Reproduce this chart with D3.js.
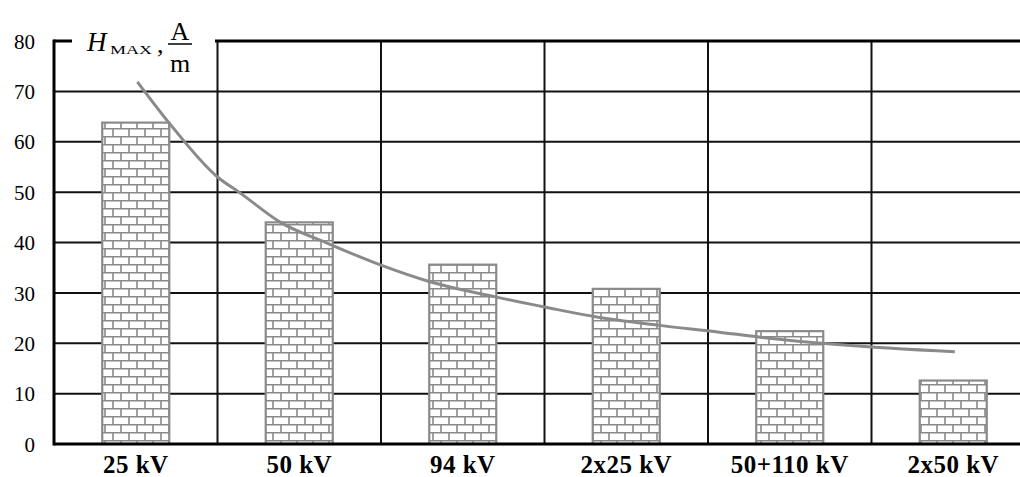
<!DOCTYPE html>
<html>
<head>
<meta charset="utf-8">
<script src="https://cdn.jsdelivr.net/npm/d3@7"></script>
<style>
  body { margin: 0; background: #fff; }
  svg { display: block; }
  .tick text { font-family: "Liberation Serif", "Times New Roman", serif; fill: #000; }
</style>
</head>
<body>
<script>
// data
var categories = ["25 kV", "50 kV", "94 kV", "2x25 kV", "50+110 kV", "2x50 kV"];
var barValues = [63.8, 44, 35.6, 30.8, 22.4, 12.6];
var yTicks = [0, 10, 20, 30, 40, 50, 60, 70, 80];

// fitted curve, x given in category units (0 = left edge, 1 = first boundary ...)
var curvePos = [0.51, 0.70, 1.0, 1.14, 1.38, 1.67, 2.0, 2.3, 2.7, 3.0, 3.32, 3.69, 4.07, 4.32, 4.81, 5.51];
var curveVal = [71.9, 63.9, 53.0, 49.8, 44.1, 39.9, 35.5, 32.2, 29.2, 27.2, 25.2, 23.6, 22.2, 21.2, 19.7, 18.3];

var W = 1020, H = 477;
var plotLeft = 54, plotRight = 1035, plotTop = 41, plotBottom = 444;

var svg = d3.select("body").append("svg")
	.attr("width", W)
	.attr("height", H);

// brick pattern for the bars
var defs = svg.append("defs");
var pat = defs.append("pattern")
	.attr("id", "brick")
	.attr("patternUnits", "userSpaceOnUse")
	.attr("width", 16)
	.attr("height", 16);
pat.append("rect").attr("width", 16).attr("height", 16).attr("fill", "#fff");
pat.append("path")
	.attr("d", "M0,0.75H16 M0,8.75H16 M1,0.75V8.75 M9,8.75V16.75")
	.attr("stroke", "#8a8a8a")
	.attr("stroke-width", 1.6)
	.attr("fill", "none");

var x = d3.scaleBand()
	.domain(categories)
	.range([plotLeft, plotRight])
	.paddingInner(0.59)
	.paddingOuter(0.295);

var xu = d3.scaleLinear().domain([0, categories.length]).range([plotLeft, plotRight]);

var y = d3.scaleLinear().domain([0, 80]).range([plotBottom, plotTop]);

// horizontal grid
svg.append("g")
	.selectAll("line")
	.data(yTicks.filter(function(d) { return d > 0 && d < 80; }))
	.join("line")
	.attr("x1", plotLeft)
	.attr("x2", plotRight)
	.attr("y1", function(d) { return y(d); })
	.attr("y2", function(d) { return y(d); })
	.attr("stroke", "#111")
	.attr("stroke-width", 2);

// vertical grid at category boundaries
svg.append("g")
	.selectAll("line")
	.data(d3.range(1, categories.length + 1))
	.join("line")
	.attr("x1", function(d) { return xu(d); })
	.attr("x2", function(d) { return xu(d); })
	.attr("y1", plotTop)
	.attr("y2", plotBottom)
	.attr("stroke", "#111")
	.attr("stroke-width", 2);

// top border
svg.append("line")
	.attr("x1", plotLeft).attr("x2", plotRight)
	.attr("y1", y(80)).attr("y2", y(80))
	.attr("stroke", "#000")
	.attr("stroke-width", 3);

// bars
svg.append("g")
	.selectAll("rect")
	.data(barValues)
	.join("rect")
	.attr("x", function(d, i) { return x(categories[i]); })
	.attr("y", function(d) { return y(d); })
	.attr("width", x.bandwidth())
	.attr("height", function(d) { return y(0) - y(d); })
	.attr("fill", "url(#brick)")
	.attr("stroke", "#8a8a8a")
	.attr("stroke-width", 2.2);

// curve
var pts = curvePos.map(function(p, i) { return [p, curveVal[i]]; });
var line = d3.line()
	.x(function(d) { return xu(d[0]); })
	.y(function(d) { return y(d[1]); })
	.curve(d3.curveMonotoneX);

svg.append("path")
	.datum(pts)
	.attr("d", line)
	.attr("fill", "none")
	.attr("stroke", "#8a8a8a")
	.attr("stroke-width", 3);

// axes lines
svg.append("line")
	.attr("x1", plotLeft).attr("x2", plotLeft)
	.attr("y1", plotTop - 1.5).attr("y2", plotBottom + 1.5)
	.attr("stroke", "#000").attr("stroke-width", 3);
svg.append("line")
	.attr("x1", plotLeft).attr("x2", plotRight)
	.attr("y1", plotBottom).attr("y2", plotBottom)
	.attr("stroke", "#000").attr("stroke-width", 3);

// y tick labels
var yAxis = svg.append("g")
	.attr("transform", "translate(" + plotLeft + ",0)")
	.call(d3.axisLeft(y).tickValues(yTicks).tickSize(0).tickPadding(19));
yAxis.select(".domain").remove();
yAxis.selectAll("text")
	.style("font-size", "21px")
	.attr("dy", "0.34em");

// x tick labels
var xAxis = svg.append("g")
	.attr("transform", "translate(0," + plotBottom + ")")
	.call(d3.axisBottom(x).tickSize(0));
xAxis.select(".domain").remove();
xAxis.selectAll("text")
	.attr("y", 29)
	.attr("dy", 0)
	.style("font-size", "25px")
	.style("font-weight", "bold")
	.style("letter-spacing", "0.5px");

// axis title  H_MAX , A/m
var t = svg.append("g")
	.style("font-family", "'Liberation Serif', 'Times New Roman', serif")
	.attr("fill", "#000");
t.append("rect")
	.attr("x", 72).attr("y", 20)
	.attr("width", 143).attr("height", 58)
	.attr("fill", "#fff");
t.append("text")
	.attr("x", 87).attr("y", 51)
	.style("font-size", "27px")
	.style("font-style", "italic")
	.text("H");
t.append("text")
	.attr("x", 110).attr("y", 54)
	.style("font-size", "13px")
	.attr("textLength", 42)
	.attr("lengthAdjust", "spacingAndGlyphs")
	.text("MAX");
t.append("text")
	.attr("x", 157).attr("y", 53)
	.style("font-size", "26px")
	.text(",");
t.append("line")
	.attr("x1", 168).attr("x2", 192)
	.attr("y1", 44).attr("y2", 44)
	.attr("stroke", "#000").attr("stroke-width", 1.5);
t.append("text")
	.attr("x", 180).attr("y", 40)
	.attr("text-anchor", "middle")
	.style("font-size", "26px")
	.text("A");
t.append("text")
	.attr("x", 180).attr("y", 72)
	.attr("text-anchor", "middle")
	.style("font-size", "26px")
	.text("m");
</script>
</body>
</html>
